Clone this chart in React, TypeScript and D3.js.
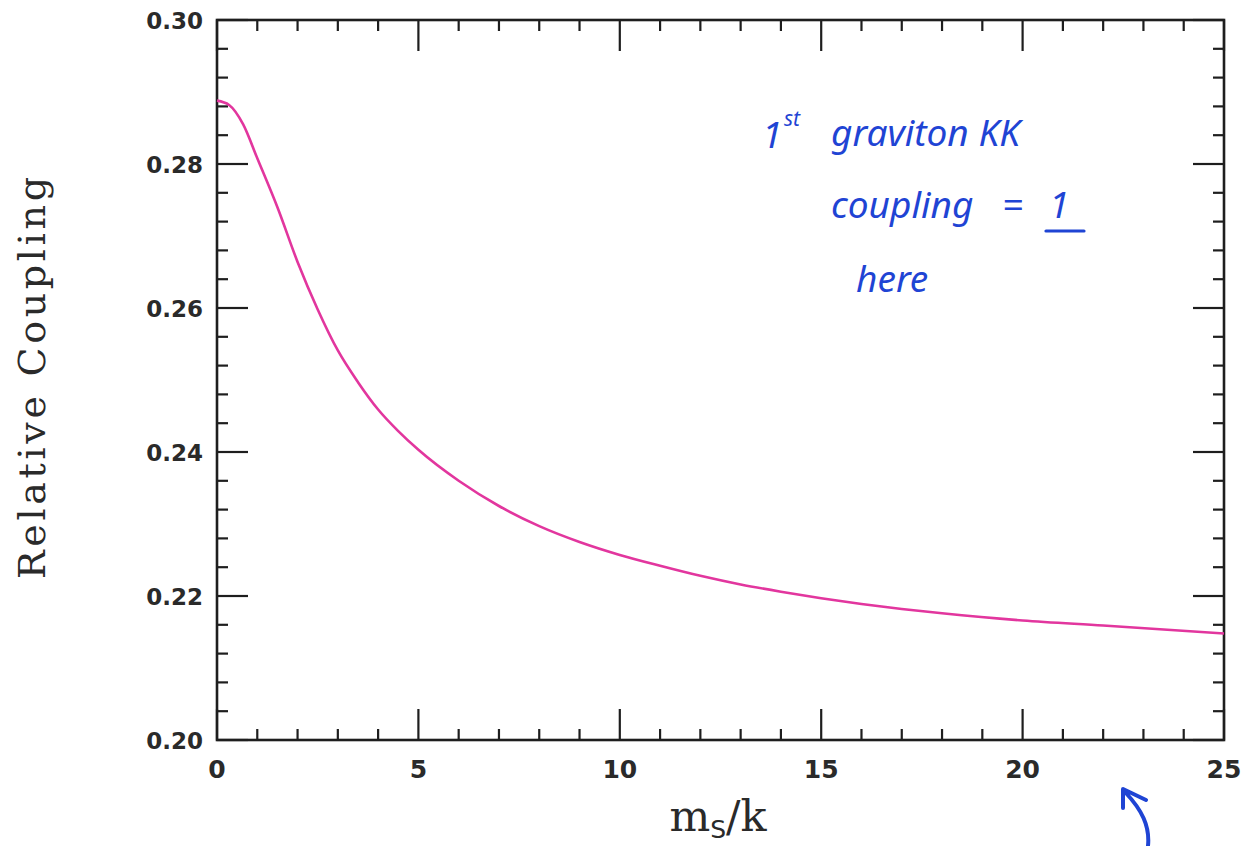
import React, { useEffect, useRef } from 'react';
import * as d3 from 'd3';

// curve: ms/k vs relative coupling
const msOverK = [0, 0.3, 0.65, 1.0, 1.5, 2.0, 2.5, 3.0, 3.5, 4.0, 4.5, 5.0, 6.0, 7.0, 8.0, 9.0, 10, 11, 12, 13, 14, 15, 16, 17, 18, 20, 22, 25];
const coupling = [0.2888, 0.2882, 0.2855, 0.2808, 0.274, 0.2664, 0.2598, 0.2541, 0.2497, 0.2459, 0.2429, 0.2403, 0.236, 0.2325, 0.2297, 0.2275, 0.2257, 0.2242, 0.2228, 0.2216, 0.2206, 0.2197, 0.2189, 0.2182, 0.2176, 0.2166, 0.2159, 0.2148];

const xTicks = [0, 5, 10, 15, 20, 25];
const yTicks = [0.2, 0.22, 0.24, 0.26, 0.28, 0.3];

const App = () => {
  const svgRef = useRef<SVGSVGElement>(null);

  useEffect(() => {
    const svg = d3.select(svgRef.current);
    svg.selectAll('*').remove();

    const W = 1246, H = 846;
    const left = 217, right = 1224, top = 20, bottom = 740;
    const ink = '#1e1e1e';

    const x = d3.scaleLinear().domain([0, 25]).range([left, right]);
    const y = d3.scaleLinear().domain([0.2, 0.3]).range([bottom, top]);

    svg.attr('width', W).attr('height', H);
    svg.append('rect').attr('width', W).attr('height', H).attr('fill', '#fff');

    const g = svg.append('g');

    // ticks on all four sides, pointing in
    const majLen = 31, minLen = 11;
    d3.range(0, 26, 1).forEach(v => {
      const len = v % 5 === 0 ? majLen : minLen;
      g.append('line').attr('x1', x(v)).attr('x2', x(v)).attr('y1', bottom).attr('y2', bottom - len)
        .attr('stroke', ink).attr('stroke-width', 2.2);
      g.append('line').attr('x1', x(v)).attr('x2', x(v)).attr('y1', top).attr('y2', top + len)
        .attr('stroke', ink).attr('stroke-width', 2.2);
    });
    d3.range(0, 26, 1).forEach(i => {
      const v = 0.2 + i * 0.004;
      const len = i % 5 === 0 ? majLen : minLen;
      g.append('line').attr('x1', left).attr('x2', left + len).attr('y1', y(v)).attr('y2', y(v))
        .attr('stroke', ink).attr('stroke-width', 2.2);
      g.append('line').attr('x1', right).attr('x2', right - len).attr('y1', y(v)).attr('y2', y(v))
        .attr('stroke', ink).attr('stroke-width', 2.2);
    });

    // frame
    g.append('rect').attr('x', left).attr('y', top).attr('width', right - left).attr('height', bottom - top)
      .attr('fill', 'none').attr('stroke', ink).attr('stroke-width', 2.6);

    // tick labels
    g.selectAll('.xl').data(xTicks).enter().append('text')
      .attr('x', d => x(d)).attr('y', 778)
      .attr('text-anchor', 'middle')
      .style('font-family', 'DejaVu Sans').style('font-weight', 'bold').style('font-size', '25px')
      .style('fill', '#2a2a2a')
      .text(d => d);

    g.selectAll('.yl').data(yTicks).enter().append('text')
      .attr('x', 203).attr('y', d => y(d) + 8.5)
      .attr('text-anchor', 'end')
      .style('font-family', 'DejaVu Sans').style('font-weight', 'bold').style('font-size', '23px')
      .style('fill', '#2a2a2a')
      .text(d => d.toFixed(2));

    // curve
    const line = d3.line<number>()
      .x((d, i) => x(msOverK[i]))
      .y(d => y(d))
      .curve(d3.curveMonotoneX);
    g.append('path').attr('d', line(coupling))
      .attr('fill', 'none').attr('stroke', '#e2369e').attr('stroke-width', 2.6);

    // axis titles
    g.append('text')
      .attr('transform', 'translate(45,378) rotate(-90)')
      .attr('text-anchor', 'middle')
      .attr('textLength', 402).attr('lengthAdjust', 'spacing')
      .style('font-family', 'DejaVu Serif').style('font-size', '38px').style('fill', '#2a2a2a')
      .text('Relative Coupling');

    const xt = g.append('text')
      .attr('x', 718).attr('y', 831)
      .attr('text-anchor', 'middle')
      .style('font-family', 'DejaVu Serif').style('font-size', '43px').style('fill', '#2a2a2a');
    xt.append('tspan').text('m');
    xt.append('tspan').attr('dy', 7).style('font-family', 'DejaVu Sans').style('font-size', '25px').text('S');
    xt.append('tspan').attr('dy', -7).text('/k');

    // handwritten note
    const blue = '#1f44d4';
    const hand = (t: string, px: number, py: number, size = 37) =>
      g.append('text').attr('x', px).attr('y', py)
        .style('font-family', 'Noto Sans').style('font-style', 'italic').style('font-size', size + 'px')
        .style('fill', blue).text(t);

    hand('1', 762, 148);
    hand('st', 784, 126, 21);
    hand('graviton KK', 831, 146);
    hand('coupling', 831, 218);
    hand('=', 1002, 218);
    hand('1', 1049, 218);
    g.append('line').attr('x1', 1046).attr('x2', 1084).attr('y1', 231).attr('y2', 231)
      .attr('stroke', blue).attr('stroke-width', 3.2).attr('stroke-linecap', 'round');
    hand('here', 856, 292);

    // pen arrow under the axis
    g.append('path')
      .attr('d', 'M1148,846 C1150,826 1142,810 1125,792 M1123,808 L1123,789 L1146,800')
      .attr('fill', 'none').attr('stroke', blue).attr('stroke-width', 4)
      .attr('stroke-linecap', 'round').attr('stroke-linejoin', 'round');
  }, []);

  return <svg ref={svgRef} style={{ position: 'absolute', left: 0, top: 0, display: 'block' }} />;
};

export default App;
